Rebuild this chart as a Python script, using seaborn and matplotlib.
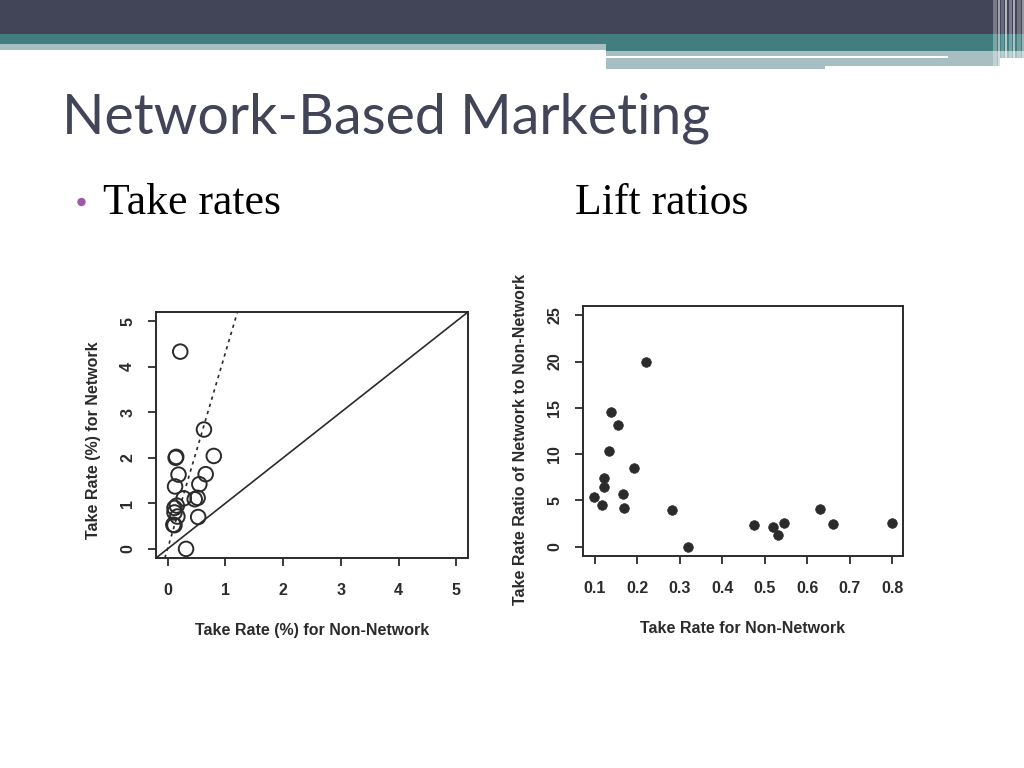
import numpy as np
import pandas as pd
import seaborn as sns
import matplotlib.pyplot as plt
from matplotlib.patches import Rectangle, Ellipse

## Slide: Network-Based Marketing -- take rates and lift ratios

# take rates (%), left panel
non_network_rate = [0.10, 0.12, 0.12, 0.12, 0.13, 0.14, 0.15, 0.16, 0.17, 0.19,
                    0.22, 0.28, 0.32, 0.47, 0.52, 0.53, 0.55, 0.63, 0.66, 0.80]
network_rate = [0.53, 0.52, 0.90, 0.80, 1.37, 2.00, 2.02, 0.95, 0.71, 1.63,
                4.33, 1.11, 0.00, 1.09, 1.12, 0.70, 1.42, 2.62, 1.64, 2.04]

# lift ratios, right panel
lift_x = [0.098, 0.117, 0.122, 0.122, 0.133, 0.137, 0.154, 0.165, 0.169, 0.191,
          0.221, 0.281, 0.318, 0.474, 0.518, 0.531, 0.545, 0.630, 0.661, 0.798]
lift_ratio = [5.4, 4.5, 7.4, 6.5, 10.3, 14.6, 13.1, 5.7, 4.2, 8.5,
              19.9, 4.0, 0.0, 2.3, 2.15, 1.3, 2.6, 4.1, 2.5, 2.6]

# dashed reference line in the left panel (average lift)
avg_lift = 4.3

df_rates = pd.DataFrame({"non_network": non_network_rate, "network": network_rate})
df_lift = pd.DataFrame({"non_network": lift_x, "ratio": lift_ratio})

sns.set_style("white")
plt.rcParams["font.family"] = ["Liberation Sans", "DejaVu Sans"]

fig = plt.figure(figsize=(10.24, 7.68), dpi=100)
fig.patch.set_facecolor("white")

# slide decoration bands (pixel coords converted to figure fractions)
W, H = 1024.0, 768.0
def band(x0, y0, x1, y1, color, alpha=1.0):
    fig.patches.append(Rectangle((x0 / W, 1 - y1 / H), (x1 - x0) / W, (y1 - y0) / H,
                                 transform=fig.transFigure, color=color, alpha=alpha,
                                 zorder=0, lw=0))

band(0, 0, 1024, 34, "#424457")
band(0, 34, 1024, 44, "#427d80")
band(0, 44, 606, 50, "#a7bfc2")
band(606, 44, 1024, 51, "#427d80")
band(606, 51, 1024, 56, "#a7bfc2")
band(606, 56, 948, 58, "white")
band(948, 56, 1024, 58, "#a7bfc2")
band(606, 58, 1000, 66, "#a7bfc2")
band(606, 66, 825, 69, "#a7bfc2")
# translucent vertical stripes at the right edge
for x, w, a in [(993, 4, 0.3), (998, 2, 0.5), (1001, 3, 0.2), (1005, 2, 0.6),
                (1009, 3, 0.3), (1013, 2, 0.55), (1017, 4, 0.25), (1022, 2, 0.45)]:
    band(x, 0, x + w, 69, "white", alpha=a)

fig.text(62 / W, 1 - 133 / H, "Network-Based Marketing", fontsize=40, color="#424457",
         family=["Lato", "DejaVu Sans"], va="baseline", ha="left")
fig.patches.append(Ellipse((81.5 / W, 1 - 202 / H), 7 / W, 7 / H, transform=fig.transFigure,
                           color="#9e5aa8", zorder=2))
fig.text(103 / W, 1 - 214 / H, "Take rates", fontsize=31.5, color="black",
         family=["Liberation Serif", "DejaVu Serif"], va="baseline", ha="left")
fig.text(575 / W, 1 - 214 / H, "Lift ratios", fontsize=31.5, color="black",
         family=["Liberation Serif", "DejaVu Serif"], va="baseline", ha="left")

ink = "#2b2b2b"

def r_style(ax):
    for s in ax.spines.values():
        s.set_color(ink)
        s.set_linewidth(1.4)
        s.set_visible(True)
    ax.tick_params(direction="out", length=6, width=1.3, color=ink, labelsize=11.5,
                   labelcolor=ink, left=True, bottom=True)
    for lab in ax.get_xticklabels() + ax.get_yticklabels():
        lab.set_fontweight("bold")
    for lab in ax.get_yticklabels():
        lab.set_rotation(90)
        lab.set_va("center")
    ax.tick_params(axis="x", pad=12)
    ax.tick_params(axis="y", pad=9)

label_kw = dict(fontsize=11.5, fontweight="bold", color=ink)

# left: take rates
ax1 = fig.add_axes([156 / W, 1 - 558 / H, 312 / W, 246 / H])
sns.scatterplot(data=df_rates, x="non_network", y="network", ax=ax1, s=110,
                facecolor="none", edgecolor=ink, linewidth=1.4, zorder=3)
ax1.axline((0, 0), slope=1, color=ink, lw=1.2)
ax1.axline((0, 0), slope=avg_lift, color=ink, lw=1.2, ls=(0, (2, 2.5)))
ax1.set_xlim(-0.2, 5.2)
ax1.set_ylim(-0.2, 5.2)
ax1.set_xticks(range(0, 6))
ax1.set_yticks(range(0, 6))
ax1.set_xlabel("Take Rate (%) for Non-Network", labelpad=18, **label_kw)
ax1.set_ylabel("Take Rate (%) for Network", **label_kw)
ax1.yaxis.set_label_coords(-55 / 312, 0.48)
r_style(ax1)

# right: lift ratios
ax2 = fig.add_axes([583 / W, 1 - 556 / H, 320 / W, 250 / H])
sns.scatterplot(data=df_lift, x="non_network", y="ratio", ax=ax2, s=48,
                color=ink, edgecolor=ink, linewidth=0.5, zorder=3)
ax2.set_xlim(0.072, 0.825)
ax2.set_ylim(-1, 26)
ax2.set_xticks([0.1, 0.2, 0.3, 0.4, 0.5, 0.6, 0.7, 0.8])
ax2.set_xticklabels(["0.1", "0.2", "0.3", "0.4", "0.5", "0.6", "0.7", "0.8"])
ax2.set_yticks([0, 5, 10, 15, 20, 25])
ax2.set_xlabel("Take Rate for Non-Network", labelpad=18, **label_kw)
ax2.set_ylabel("Take Rate Ratio of Network to Non-Network", **label_kw)
ax2.yaxis.set_label_coords(-55 / 320, 0.465)
r_style(ax2)

fig.savefig("out.png", dpi=100, facecolor="white")
